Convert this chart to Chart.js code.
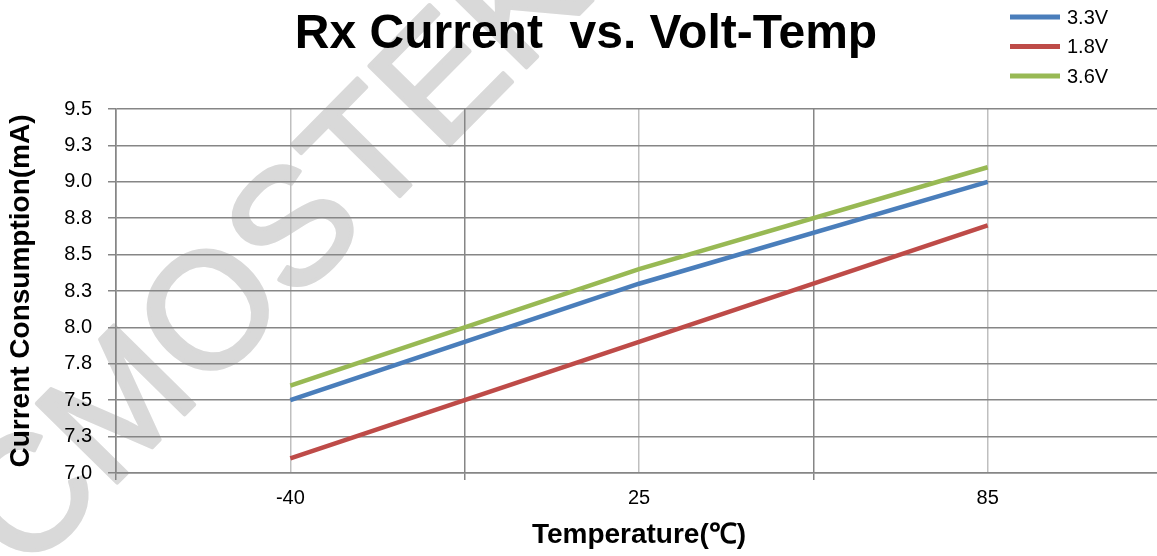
<!DOCTYPE html>
<html>
<head>
<meta charset="utf-8">
<script src="https://cdn.jsdelivr.net/npm/chart.js@4/dist/chart.umd.min.js"></script>
<style>
  html, body { margin: 0; padding: 0; background: #ffffff; overflow: hidden; }
  #wrap { width: 1162px; height: 556px; position: relative; }
</style>
</head>
<body>
<div id="wrap"><canvas id="c"></canvas></div>
<script>
// ---- data ----
const chartTitle = 'Rx Current  vs. Volt-Temp';
const temperatures = ['-40', '25', '85'];
const seriesNames = ['3.3V', '1.8V', '3.6V'];
const current33 = [7.5, 8.3, 9.0];
const current18 = [7.1, 7.9, 8.7];
const current36 = [7.6, 8.4, 9.1];
const yTickMin = 7.0;
const yTickMax = 9.5;
const yTickStep = 0.25;

const colors = ['#4A7EBB', '#BE4B48', '#98B954'];
const seriesValues = [current33, current18, current36];

// categories placed at centres of equal slots (1,3,5) on a 0..6 axis
function toPoints(vals) {
  return vals.map((v, i) => ({ x: i * 2 + 1, y: v }));
}

const FONT = '"Liberation Sans", Arial, sans-serif';

const bgAndWatermark = {
  id: 'bgAndWatermark',
  beforeDraw(chart) {
    const ctx = chart.ctx;
    ctx.save();
    ctx.fillStyle = '#ffffff';
    ctx.fillRect(0, 0, chart.width, chart.height);
    ctx.translate(277, 256);
    ctx.rotate(-45.4 * Math.PI / 180);
    ctx.font = '164px ' + FONT;
    ctx.fillStyle = '#d9d9d9';
    ctx.strokeStyle = '#d9d9d9';
    ctx.lineWidth = 4;
    ctx.lineJoin = 'round';
    ctx.textAlign = 'center';
    ctx.textBaseline = 'middle';
    ctx.fillText('CMOSTEK', 0, 0);
    ctx.strokeText('CMOSTEK', 0, 0);
    ctx.restore();
  }
};

const titleAndLegend = {
  id: 'titleAndLegend',
  afterDraw(chart) {
    const ctx = chart.ctx;
    ctx.save();
    ctx.fillStyle = '#000000';
    ctx.font = 'bold 48px ' + FONT;
    ctx.textAlign = 'center';
    ctx.textBaseline = 'alphabetic';
    ctx.fillText(chartTitle, 586, 48);
    chart.data.datasets.forEach((ds, i) => {
      const y = 17 + i * 29.5;
      ctx.strokeStyle = ds.borderColor;
      ctx.lineWidth = 5;
      ctx.beginPath();
      ctx.moveTo(1010, y);
      ctx.lineTo(1060, y);
      ctx.stroke();
      ctx.fillStyle = '#000000';
      ctx.font = '20px ' + FONT;
      ctx.textAlign = 'left';
      ctx.textBaseline = 'middle';
      ctx.fillText(ds.label, 1067, y + 1);
    });
    ctx.restore();
  }
};

new Chart(document.getElementById('c'), {
  type: 'line',
  data: {
    datasets: seriesNames.map((name, i) => ({
      label: name,
      data: toPoints(seriesValues[i]),
      borderColor: colors[i],
      backgroundColor: colors[i],
      borderWidth: 4.5,
      pointRadius: 0,
      tension: 0,
      fill: false
    }))
  },
  options: {
    responsive: true,
    maintainAspectRatio: false,
    animation: false,
    layout: { padding: { top: 109, left: 0, right: 0, bottom: 0 } },
    plugins: {
      legend: { display: false },
      tooltip: { enabled: false },
      title: { display: false }
    },
    scales: {
      x: {
        type: 'linear',
        min: 0,
        max: 6,
        afterFit(scale) {
          scale.height = 83;
          scale.paddingLeft = 0;
          scale.paddingRight = 0;
        },
        afterBuildTicks(scale) {
          scale.ticks = [0, 1, 2, 3, 4, 5, 6].map(v => ({ value: v }));
        },
        ticks: {
          autoSkip: false,
          maxRotation: 0,
          color: '#000000',
          font: { family: FONT, size: 20 },
          padding: 6,
          callback: (v) => (v % 2 === 1 ? temperatures[(v - 1) / 2] : '')
        },
        grid: {
          color: (c) => (c.tick && c.tick.value % 2 === 1 ? '#BFBFBF' : '#868686'),
          lineWidth: 1.5,
          tickLength: 7,
          tickColor: (c) => (c.tick && c.tick.value % 2 === 1 ? 'rgba(0,0,0,0)' : '#868686')
        },
        border: { display: true, color: '#868686', width: 1.5 },
        title: {
          display: true,
          text: 'Temperature(℃)',
          color: '#000000',
          font: { family: FONT, size: 28, weight: 'bold', lineHeight: 1.2 },
          padding: { top: 0, bottom: 4 }
        }
      },
      y: {
        type: 'linear',
        min: yTickMin,
        max: yTickMax,
        afterFit(scale) {
          scale.width = 116;
          scale.paddingTop = 0;
          scale.paddingBottom = 0;
        },
        ticks: {
          stepSize: yTickStep,
          color: '#000000',
          font: { family: FONT, size: 20 },
          padding: 16,
          callback: (v) => Number(v).toFixed(1)
        },
        grid: {
          color: '#868686',
          lineWidth: 1.5,
          tickLength: 8,
          tickColor: '#868686'
        },
        border: { display: true, color: '#868686', width: 1.5 },
        title: {
          display: true,
          text: 'Current Consumption(mA)',
          color: '#000000',
          font: { family: FONT, size: 28, weight: 'bold', lineHeight: 1.2 },
          padding: { top: 4, bottom: 0 }
        }
      }
    }
  },
  plugins: [bgAndWatermark, titleAndLegend]
});
</script>
</body>
</html>
